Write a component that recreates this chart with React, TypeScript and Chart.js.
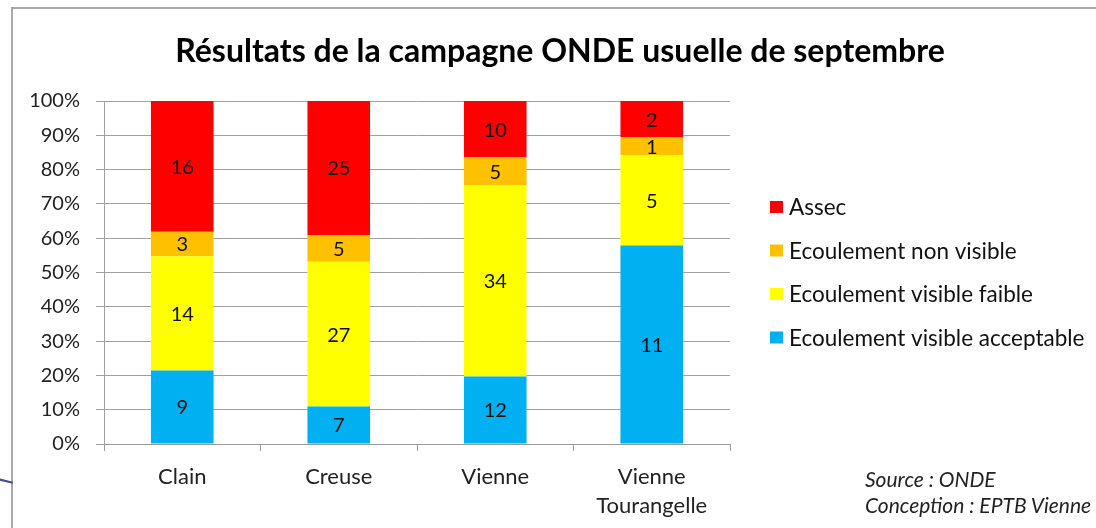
import React, { useEffect, useRef } from "react";
import { Chart, registerables } from "chart.js";

Chart.register(...registerables);

const categories: (string | string[])[] = ["Clain", "Creuse", "Vienne", ["Vienne", "Tourangelle"]];
const seriesNames = ["Ecoulement visible acceptable", "Ecoulement visible faible", "Ecoulement non visible", "Assec"];
const acceptable = [9, 7, 12, 11];
const faible = [14, 27, 34, 5];
const nonVisible = [3, 5, 5, 1];
const assec = [16, 25, 10, 2];
const seriesColors = ["#00B0F0", "#FFFF00", "#FFC000", "#FF0000"];
const yTicks = [0, 10, 20, 30, 40, 50, 60, 70, 80, 90, 100];
const titleText = "Résultats de la campagne ONDE usuelle de septembre";
const sourceLines = ["Source : ONDE", "Conception : EPTB Vienne"];

const counts = [acceptable, faible, nonVisible, assec];
const totals = categories.map((_, i) => counts.reduce((s, arr) => s + arr[i], 0));
const percents = counts.map((arr) => arr.map((v, i) => (v / totals[i]) * 100));

const FONT = "Lato, 'Noto Sans', sans-serif";

const overlayPlugin = {
  id: "overlay",
  afterDatasetsDraw(chart: any) {
    const ctx = chart.ctx;
    ctx.save();
    // data labels
    ctx.font = `20px ${FONT}`;
    ctx.fillStyle = "#111";
    ctx.textAlign = "center";
    ctx.textBaseline = "middle";
    chart.data.datasets.forEach((ds: any, di: number) => {
      const meta = chart.getDatasetMeta(di);
      meta.data.forEach((bar: any, i: number) => {
        const raw = ds.counts[i];
        ctx.fillText(String(raw), bar.x, (bar.y + bar.base) / 2 + 1);
      });
    });
    // title
    ctx.font = `bold 32px ${FONT}`;
    ctx.fillStyle = "#000";
    ctx.fillText(titleText, 560, 52);
    // legend
    const items = chart.data.datasets.map((ds: any) => ({ label: ds.label, color: ds.backgroundColor })).reverse();
    ctx.textAlign = "left";
    ctx.font = `22.5px ${FONT}`;
    items.forEach((it: any, k: number) => {
      const cy = 207 + k * 43.5;
      ctx.fillStyle = it.color;
      ctx.fillRect(770, cy - 6, 13, 12);
      ctx.fillStyle = "#111";
      ctx.fillText(it.label, 789, cy + 1);
    });
    ctx.restore();
  },
};

export default function App() {
  const ref = useRef<HTMLCanvasElement>(null);
  useEffect(() => {
    if (!ref.current) return;
    const chart = new Chart(ref.current, {
      type: "bar",
      data: {
        labels: categories as any,
        datasets: seriesNames.map((name, i) => ({
          label: name,
          data: percents[i],
          counts: counts[i],
          backgroundColor: seriesColors[i],
          borderWidth: 0,
          categoryPercentage: 1,
          barPercentage: 0.4,
        })) as any,
      },
      options: {
        responsive: false,
        animation: false,
        devicePixelRatio: 1,
        layout: { padding: { top: 101, right: 366, left: 0, bottom: 0 } },
        plugins: {
          legend: { display: false },
          title: { display: false },
          tooltip: { enabled: false },
        },
        scales: {
          x: {
            stacked: true,
            afterFit: (s: any) => { s.height = 84; },
            grid: { drawOnChartArea: false, drawTicks: true, tickLength: 7, color: "#9a9a9a", offset: true },
            border: { display: true, color: "#9a9a9a" },
            ticks: { font: { family: FONT, size: 22, lineHeight: 1.32 }, color: "#222", padding: 11 },
          },
          y: {
            stacked: true,
            min: 0,
            max: 100,
            afterFit: (s: any) => { s.width = 104; },
            afterBuildTicks: (s: any) => { s.ticks = yTicks.map((v) => ({ value: v })); },
            grid: { color: "#a0a0a0", tickLength: 8, drawTicks: true },
            border: { display: true, color: "#a0a0a0" },
            ticks: { font: { family: FONT, size: 20 }, color: "#222", padding: 16, callback: (v: any) => `${v}%` },
          },
        },
      },
      plugins: [overlayPlugin],
    });
    return () => chart.destroy();
  }, []);
  return (
    <div style={{ position: "absolute", left: 0, top: 0, width: 1096, height: 528, overflow: "hidden", background: "#fff" }}>
      <div style={{ position: "absolute", left: 11, top: 7, width: 1200, height: 600, borderTop: "2px solid #a8a8a8", borderLeft: "2px solid #a8a8a8" }} />
      <div style={{ position: "absolute", left: -2, top: 480, width: 15, height: 2, background: "#3f4f8f", transform: "rotate(14deg)" }} />
      <canvas ref={ref} width={1096} height={528} style={{ position: "absolute", left: 0, top: 0 }} />
      <div style={{ position: "absolute", left: 865, top: 466, fontFamily: FONT, fontStyle: "italic", fontSize: 21, lineHeight: "26px", color: "#222" }}>
        {sourceLines.map((l, i) => (<div key={i}>{l}</div>))}
      </div>
    </div>
  );
}
